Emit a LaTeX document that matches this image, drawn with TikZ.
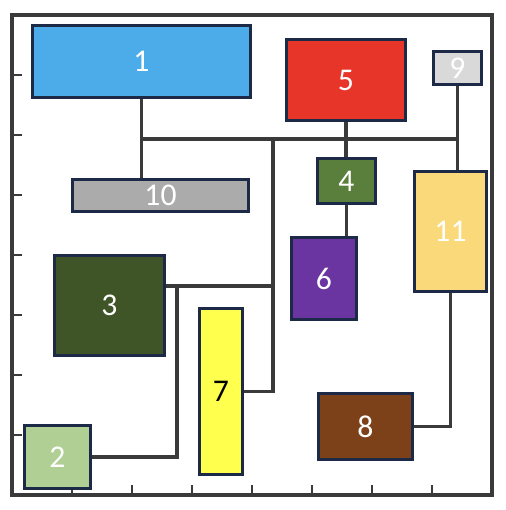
\documentclass[tikz,border=0pt]{standalone}
\usepackage{fontspec}
\setmainfont{Carlito}
\usetikzlibrary{positioning,backgrounds}
\definecolor{rim}{HTML}{1C2A48}
\definecolor{wire}{HTML}{3A3A3A}
\definecolor{cblue}{HTML}{4BACE9}
\definecolor{cred}{HTML}{E8352A}
\definecolor{clgray}{HTML}{D9D9D9}
\definecolor{cgray}{HTML}{ABABAB}
\definecolor{cgreen}{HTML}{5A7E3B}
\definecolor{cdgreen}{HTML}{3F5427}
\definecolor{cpurple}{HTML}{6A35A0}
\definecolor{cgold}{HTML}{FAD97A}
\definecolor{cyellow}{HTML}{FFFF4D}
\definecolor{cbrown}{HTML}{7D4119}
\definecolor{clgreen}{HTML}{B0CF94}
\tikzset{
	block/.style={draw=rim, line width=1.8pt, inner sep=0pt, text=white,
		font=\fontsize{18}{21}\selectfont},
	wire/.style={draw=wire, line width=1.9pt},
	frame/.style={draw=wire, line width=1.9pt},
	tick/.style={draw=wire, line width=1.1pt}
}

\begin{document}
\begin{tikzpicture}[x=0.02cm, y=-0.02cm]
			\useasboundingbox (0,0) rectangle (506,510);
			\draw[frame] (12,15) rectangle (492,495);
			\foreach \i in {1,...,7} {
				\draw[tick] (12,15+60*\i) -- ++(10,0);
				\draw[tick] (12+60*\i,495) -- ++(0,-10);
			}
			\node[block, fill=cblue, minimum width=4.36cm, minimum height=1.44cm] (b1) at (141.5,61.5) {1};
			\node[block, fill=cgray, minimum width=3.52cm, minimum height=0.64cm] (b10) at (160.5,195.5) {10};
			\node[block, fill=cred, minimum width=2.38cm, minimum height=1.62cm] (b5) at (346,80) {5};
			\node[block, fill=clgray, minimum width=0.96cm, minimum height=0.66cm] (b9) at (457.5,68) {9};
			\node[block, fill=cgreen, minimum width=1.16cm, minimum height=0.90cm] (b4) at (346.5,181) {4};
			\node[block, fill=cgold, minimum width=1.44cm, minimum height=2.40cm] (b11) at (450.5,231.5) {11};
			\node[block, fill=cpurple, minimum width=1.30cm, minimum height=1.64cm] (b6) at (324,278.5) {6};
			\node[block, fill=cdgreen, minimum width=2.20cm, minimum height=2.00cm] (b3) at (109.5,305.5) {3};
			\node[block, fill=clgreen, minimum width=1.32cm, minimum height=1.26cm] (b2) at (57.5,457) {2};
			\node[block, fill=cyellow, text=black, minimum width=0.86cm, minimum height=3.32cm] (b7) at (221,391.5) {7};
			\node[block, fill=cbrown, minimum width=1.88cm, minimum height=1.32cm] (b8) at (365.5,426.5) {8};
			\coordinate (bus) at (0,139);
			\coordinate (trunk) at (273,139);
			\coordinate (tap3) at (273,286);
			\coordinate (tap2) at (177,286);
			\begin{scope}[on background layer]
				\draw[wire] (b1.south) -- (b1.south |- b10.north);
				\draw[wire] (b1.south |- bus) -- (b9.south |- bus);
				\draw[wire] (b5.south) -- (b5.south |- b4.north);
				\draw[wire] (b4.south) -- (b4.south |- b6.north);
				\draw[wire] (b9.south) -- (b9.south |- b11.north);
				\draw[wire] (b11.south) |- (b8.east);
				\draw[wire] (trunk) |- (b7.east);
				\draw[wire] (tap3) -- (tap3 -| b3.east);
				\draw[wire] (tap2) |- (b2.east);
			\end{scope}
		\end{tikzpicture}
\end{document}
